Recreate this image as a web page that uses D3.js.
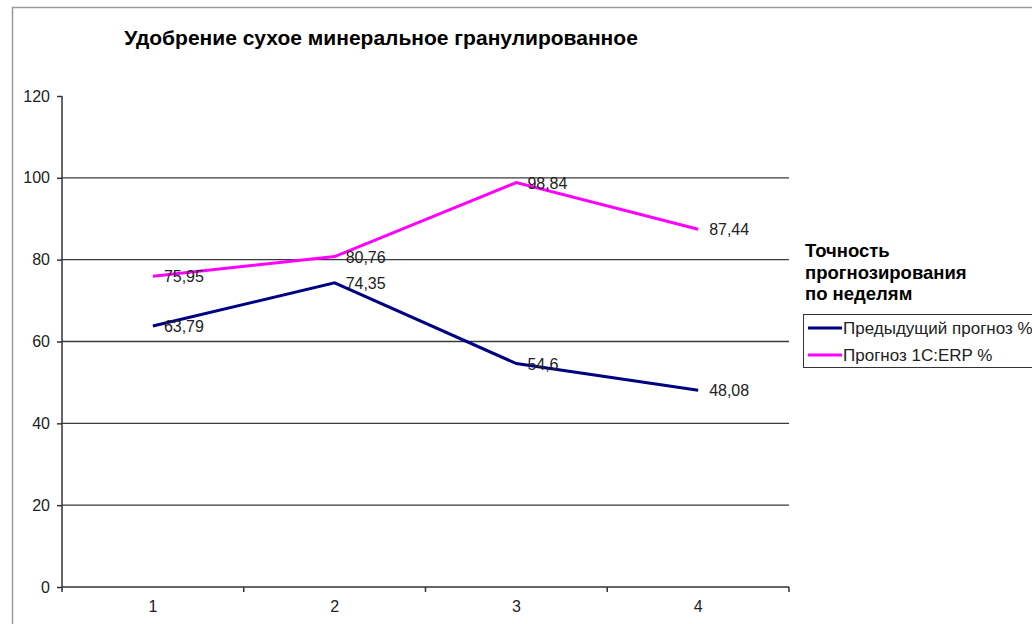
<!DOCTYPE html>
<meta charset="utf-8">
<script src="https://d3js.org/d3.v7.min.js"></script>
<body style="margin:0;background:#fff">
<svg width="1032" height="624"></svg>
<script>
var weeks = ['1', '2', '3', '4'];
var prevForecast = [63.79, 74.35, 54.6, 48.08];
var erpForecast = [75.95, 80.76, 98.84, 87.44];
var yTicks = [0, 20, 40, 60, 80, 100, 120];
var seriesNames = ['Предыдущий прогноз %', 'Прогноз 1С:ERP %'];
var seriesColors = ['#000080', '#ff00ff'];

var svg = d3.select('svg');
var font = 'Liberation Sans, Arial, sans-serif';

// outer frame (only top and left edges visible)
svg.append('path').attr('d', 'M12.5,624 V7.5 H1032').attr('fill', 'none')
  .attr('stroke', '#9a9a9a').attr('stroke-width', 1.5);

var x = d3.scaleBand().domain(weeks).range([62, 789]);
var y = d3.scaleLinear().domain([0, 120]).range([587, 96]);

svg.append('text').attr('x', 381).attr('y', 45).attr('text-anchor', 'middle')
  .attr('font-family', font).attr('font-weight', 'bold').attr('font-size', 21)
  .text('Удобрение сухое минеральное гранулированное');

// gridlines
svg.append('g').selectAll('line').data(yTicks.filter(function (d) { return d > 0 && d < 120; }))
  .enter().append('line')
  .attr('x1', 62).attr('x2', 789)
  .attr('y1', function (d) { return y(d); }).attr('y2', function (d) { return y(d); })
  .attr('stroke', '#3a3a3a').attr('stroke-width', 1.3);

var yAxis = svg.append('g').attr('transform', 'translate(62,0)')
  .call(d3.axisLeft(y).tickValues(yTicks).tickSize(5).tickPadding(7));
var xAxis = svg.append('g').attr('transform', 'translate(0,587)')
  .call(d3.axisBottom(x).tickSize(0).tickPadding(14));
[yAxis, xAxis].forEach(function (a) {
  a.selectAll('path, line').attr('stroke', '#333').attr('stroke-width', 1.5);
  a.selectAll('text').attr('font-family', font).attr('font-size', 16).attr('fill', '#222');
});
yAxis.select('.domain').attr('d', 'M0,587V96');
xAxis.select('.domain').attr('d', 'M62,0H789');
// category boundary ticks
xAxis.selectAll('.sep').data(d3.range(weeks.length + 1)).enter().append('line')
  .attr('class', 'sep')
  .attr('x1', function (i) { return 62 + i * x.step(); })
  .attr('x2', function (i) { return 62 + i * x.step(); })
  .attr('y1', 0).attr('y2', 5).attr('stroke', '#333').attr('stroke-width', 1.5);

var line = d3.line()
  .x(function (d, i) { return x(weeks[i]) + x.bandwidth() / 2; })
  .y(function (d) { return y(d); });

[prevForecast, erpForecast].forEach(function (s, k) {
  svg.append('path').datum(s).attr('d', line).attr('fill', 'none')
    .attr('stroke', seriesColors[k]).attr('stroke-width', 3);
  svg.append('g').selectAll('text').data(s).enter().append('text')
    .attr('x', function (d, i) { return x(weeks[i]) + x.bandwidth() / 2 + 11; })
    .attr('y', function (d) { return y(d) + 6; })
    .attr('font-family', font).attr('font-size', 16).attr('fill', '#222')
    .text(function (d) { return String(d).replace('.', ','); });
});

// legend
var lt = svg.append('text').attr('font-family', font).attr('font-weight', 'bold')
  .attr('font-size', 18.5).attr('fill', '#000');
['Точность', 'прогнозирования', 'по неделям'].forEach(function (t, i) {
  lt.append('tspan').attr('x', 805).attr('y', 257 + i * 21.5).text(t);
});
svg.append('rect').attr('x', 803.5).attr('y', 314.5).attr('width', 240).attr('height', 53)
  .attr('fill', '#fff').attr('stroke', '#333').attr('stroke-width', 1);
seriesNames.forEach(function (n, i) {
  var yy = 328 + i * 27;
  svg.append('line').attr('x1', 808).attr('x2', 842).attr('y1', yy).attr('y2', yy)
    .attr('stroke', seriesColors[i]).attr('stroke-width', 3);
  svg.append('text').attr('x', 843).attr('y', yy + 6).attr('font-family', font)
    .attr('font-size', 17).attr('fill', '#222').text(n);
});
</script>
</body>
